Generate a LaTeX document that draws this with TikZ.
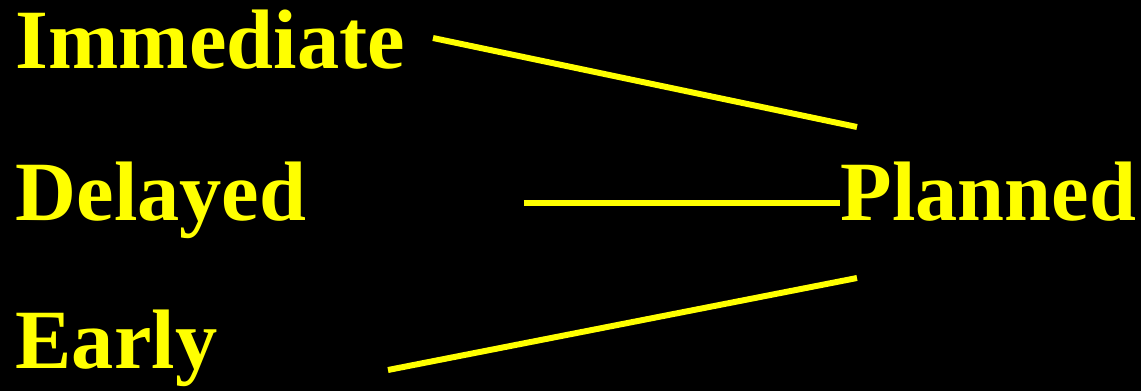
\documentclass[tikz,border=0pt]{standalone}
\usepackage{fontspec}
\setmainfont{Liberation Serif}
\usepackage{xcolor}
\definecolor{termyellow}{RGB}{255,255,0}

\begin{document}
\begin{tikzpicture}[x=0.01cm, y=-0.01cm,
  term/.style={anchor=base west, inner sep=0pt, text=termyellow,
               font=\fontsize{24}{28}\selectfont\bfseries},
  link/.style={draw=termyellow, line width=1.7pt}
]
  \fill[black] (0,0) rectangle (1141,391);
  \node[term] (immediate) at (15,68)  {Immediate};
  \node[term] (delayed)   at (15,221) {Delayed};
  \node[term] (early)     at (15,368) {Early};
  \node[term] (planned)   at (840,221) {Planned};
  \coordinate (imEnd) at (433,38);
  \coordinate (deEnd) at (524,203);
  \coordinate (eaEnd) at (388,370);
  \coordinate (plTop) at (857,127);
  \coordinate (plMid) at (840,203);
  \coordinate (plBot) at (857,278);
  \draw[link] (imEnd) -- (plTop);
  \draw[link] (deEnd) -- (plMid);
  \draw[link] (eaEnd) -- (plBot);
\end{tikzpicture}
\end{document}
